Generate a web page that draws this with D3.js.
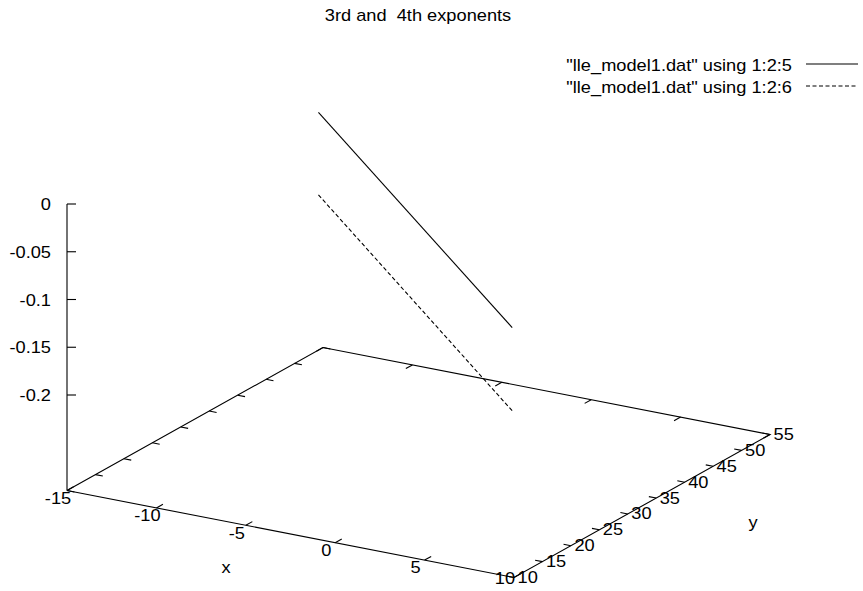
<!DOCTYPE html>
<html>
<head>
<meta charset="utf-8">
<script src="https://cdn.jsdelivr.net/npm/d3@7"></script>
<style>
  html, body { margin: 0; padding: 0; background: #fff; }
  svg { display: block; }
  text { font-family: "Liberation Sans", Arial, Helvetica, sans-serif; font-size: 16px; fill: #000; white-space: pre; }
</style>
</head>
<body>
<svg id="chart" width="863" height="591"></svg>
<script>
// ---- data ----
const title = "3rd and  4th exponents";
const seriesNames = ['"lle_model1.dat" using 1:2:5', '"lle_model1.dat" using 1:2:6'];
const xValues = [-15, 9.9];          // column 1
const yValues = [54.2, 10];          // column 2
const zCol5 = [-0.0511, -0.0387];    // column 5 (solid)
const zCol6 = [-0.1375, -0.1258];    // column 6 (dashed)
const xTicks = [-15, -10, -5, 0, 5, 10];
const yTicks = [10, 15, 20, 25, 30, 35, 40, 45, 50, 55];
const zTicks = [0, -0.05, -0.1, -0.15, -0.2];
const zTickLabels = ["0", "-0.05", "-0.1", "-0.15", "-0.2"];
const xDomain = [-15, 10];
const yDomain = [10, 55];
const zDomain = [-0.2, 0];
const ticslevel = 0.5;

// ---- projection (gnuplot-like oblique view) ----
const W = 863, H = 591;
const svg = d3.select("#chart");
const zBase = zDomain[0] - ticslevel * (zDomain[1] - zDomain[0]);
const xN = d3.scaleLinear().domain(xDomain).range([0, 1]);
const yN = d3.scaleLinear().domain(yDomain).range([0, 1]);
const zH = d3.scaleLinear().domain([zBase, zDomain[1]]).range([0, 286.5]);
const O = [67, 490.5], EX = [447, 87], EY = [256, -143];
function P(x, y, z) {
  const a = xN(x), b = yN(y), h = (z === undefined) ? 0 : zH(z);
  return [O[0] + a * EX[0] + b * EY[0], O[1] + a * EX[1] + b * EY[1] - h];
}
const line = d3.line();
const g = svg.append("g").attr("fill", "none").attr("stroke", "#000").attr("stroke-width", 1.1);

// base box
const [x0, x1] = xDomain, [y0, y1] = yDomain;
g.append("path").attr("d", line([P(x0, y0), P(x1, y0), P(x1, y1), P(x0, y1), P(x0, y0)]));
// z axis
g.append("path").attr("d", line([P(x0, y0, zBase), P(x0, y0, zDomain[1])]));

function unit(v) { const l = Math.hypot(v[0], v[1]); return [v[0] / l, v[1] / l]; }
const uY = unit(EY), uX = unit(EX);
const tl = 7.5;
// x ticks front (towards +y) and back (towards -y)
xTicks.forEach(t => {
  const p = P(t, y0), q = P(t, y1);
  g.append("path").attr("d", line([p, [p[0] + uY[0] * tl, p[1] + uY[1] * tl]]));
  g.append("path").attr("d", line([q, [q[0] - uY[0] * tl, q[1] - uY[1] * tl]]));
});
// y ticks right (towards -x) and left (towards +x)
yTicks.forEach(t => {
  const p = P(x1, t), q = P(x0, t);
  g.append("path").attr("d", line([p, [p[0] - uX[0] * tl, p[1] - uX[1] * tl]]));
  g.append("path").attr("d", line([q, [q[0] + uX[0] * tl, q[1] + uX[1] * tl]]));
});
// z ticks
zTicks.forEach(t => {
  const p = P(x0, y0, t);
  g.append("path").attr("d", line([p, [p[0] + 9, p[1]]]));
});

// ---- text helper (horizontally widened glyphs) ----
const SX = 1.14;
function txt(x, y, s, anchor) {
  svg.append("text")
    .attr("transform", `translate(${x},${y}) scale(${SX},1)`)
    .attr("text-anchor", anchor || "start")
    .attr("xml:space", "preserve")
    .text(s);
}
zTicks.forEach((t, i) => { const p = P(x0, y0, t); txt(51, p[1] + 6, zTickLabels[i], "end"); });
// x tick labels (kept inside the canvas, as gnuplot does)
xTicks.forEach(t => { const p = P(t, y0); txt(p[0] - 9, Math.min(p[1] + 13.2, H - 7), String(t), "middle"); });
yTicks.forEach(t => { const p = P(x1, t); txt(p[0] + 3.5, p[1] + 5.5, String(t), "start"); });
txt(226, 573, "x", "middle");
txt(753, 528, "y", "middle");
txt(418, 21, title, "middle");

// ---- data lines ----
const pts5 = xValues.map((x, i) => P(x, yValues[i], zCol5[i]));
const pts6 = xValues.map((x, i) => P(x, yValues[i], zCol6[i]));
g.append("path").attr("d", line(pts5));
g.append("path").attr("d", line(pts6)).attr("stroke-dasharray", "4,2.5");

// ---- legend ----
const legY = [70.5, 92.5];
seriesNames.forEach((s, i) => {
  txt(792, legY[i], s, "end");
  const ln = g.append("path").attr("d", line([[806, legY[i] - 6.5], [858, legY[i] - 6.5]]));
  if (i === 1) ln.attr("stroke-dasharray", "4,2.5");
});
</script>
</body>
</html>
